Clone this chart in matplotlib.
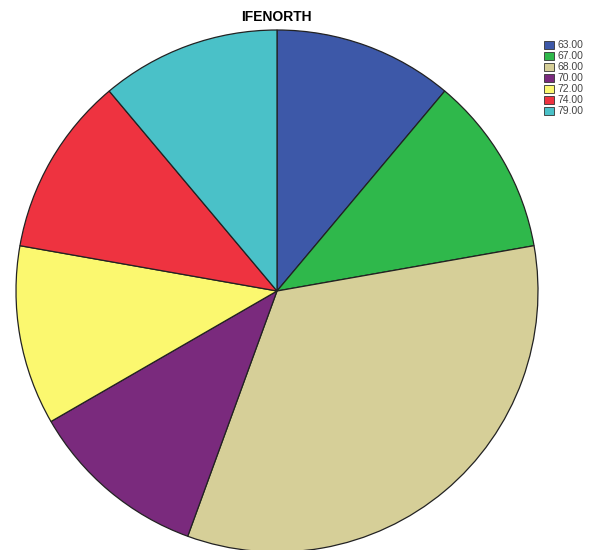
import matplotlib.pyplot as plt
from matplotlib.patches import Patch

labels = ['63.00', '67.00', '68.00', '70.00', '72.00', '74.00', '79.00']
counts = [1, 1, 3, 1, 1, 1, 1]
colors = ['#3d58a8', '#2fb84b', '#d6cf98', '#7a2a7d', '#fbf86f', '#ee3340', '#4ac1c8']

fig = plt.figure(figsize=(5.97, 5.5), dpi=100)
ax = fig.add_axes([16 / 597, -2 / 550, 522 / 597, 522 / 550])

ax.pie(counts, colors=colors, startangle=90, counterclock=False,
       wedgeprops=dict(edgecolor='#222222', linewidth=0.9))
ax.set_xlim(-1, 1)
ax.set_ylim(-1, 1)
ax.set_aspect('equal')
ax.axis('off')

fig.text(276 / 597, 1 - 17 / 550, 'IFENORTH', ha='center', va='center',
         fontsize=10, fontweight='bold', family='Liberation Sans')

handles = [Patch(facecolor=c, edgecolor='#333333', linewidth=0.6, label=l)
           for c, l in zip(colors, labels)]
leg = fig.legend(handles=handles, loc='upper left', bbox_to_anchor=(540 / 597, 1 - 36 / 550),
                 frameon=False, handlelength=0.9, handleheight=0.8,
                 handletextpad=0.4, labelspacing=0.1, borderaxespad=0,
                 prop={'family': 'Liberation Sans', 'size': 7.5})
for t in leg.get_texts():
    t.set_color('#444444')

fig.savefig('out.png', dpi=100)
